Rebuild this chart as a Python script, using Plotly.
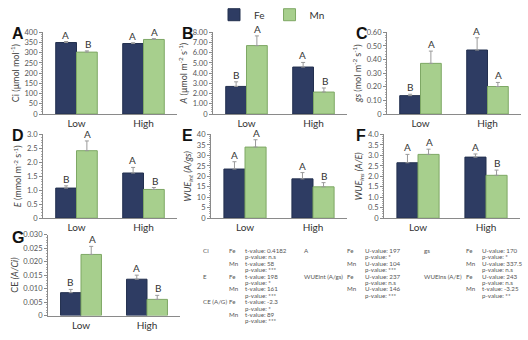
import plotly.graph_objects as go

W, H = 528, 340
FONT = "Lato"

groups = ["Low", "High"]
series = ["Fe", "Mn"]
colors = {"Fe": "#2E3C63", "Mn": "#A7CF8D"}
lines = {"Fe": "#23304F", "Mn": "#7EA865"}

# panel values: Fe / Mn at Low, High
ci_fe = [350, 345]; ci_mn = [303, 365]
ci_fe_err = [5, 4]; ci_mn_err = [6, 4]
ci_fe_let = ["A", "A"]; ci_mn_let = ["B", "A"]

a_fe = [2.70, 4.60]; a_mn = [6.70, 2.15]
a_fe_err = [0.45, 0.45]; a_mn_err = [0.95, 0.40]
a_fe_let = ["B", "A"]; a_mn_let = ["A", "B"]

gs_fe = [0.135, 0.470]; gs_mn = [0.372, 0.202]
gs_fe_err = [0.01, 0.09]; gs_mn_err = [0.09, 0.03]
gs_fe_let = ["B", "A"]; gs_mn_let = ["A", "A"]

e_fe = [1.08, 1.62]; e_mn = [2.42, 1.03]
e_fe_err = [0.08, 0.20]; e_mn_err = [0.35, 0.07]
e_fe_let = ["B", "A"]; e_mn_let = ["A", "B"]

wint_fe = [23.5, 18.8]; wint_mn = [34.0, 15.0]
wint_fe_err = [3.5, 3.0]; wint_mn_err = [3.5, 2.0]
wint_fe_let = ["A", "A"]; wint_mn_let = ["A", "B"]

wins_fe = [2.65, 2.92]; wins_mn = [3.05, 2.05]
wins_fe_err = [0.40, 0.15]; wins_mn_err = [0.25, 0.25]
wins_fe_let = ["A", "A"]; wins_mn_let = ["A", "B"]

ce_fe = [0.0085, 0.0135]; ce_mn = [0.0227, 0.0060]
ce_fe_err = [0.0012, 0.0015]; ce_mn_err = [0.0030, 0.0015]
ce_fe_let = ["B", "A"]; ce_mn_let = ["A", "B"]

ticks_a = [0, 50, 100, 150, 200, 250, 300, 350, 400]
ticks_b = [0, 1, 2, 3, 4, 5, 6, 7, 8]
ticks_c = [0, 0.1, 0.2, 0.3, 0.4, 0.5, 0.6]
ticks_d = [0, 0.5, 1.0, 1.5, 2.0, 2.5, 3.0]
ticks_e = [0, 5, 10, 15, 20, 25, 30, 35, 40]
ticks_f = [0, 0.5, 1.0, 1.5, 2.0, 2.5, 3.0, 3.5, 4.0]
ticks_g = [0, 0.005, 0.010, 0.015, 0.020, 0.025, 0.030]

panels = [
    dict(letter="A", fe=ci_fe, mn=ci_mn, fe_err=ci_fe_err, mn_err=ci_mn_err, fl=ci_fe_let, ml=ci_mn_let,
         ticks=ticks_a, fmt="{:.0f}", minor=10, title="Ci (μmol mol<sup>-1</sup>)",
         box=(43, 177, 29, 113), lpos=(10, 30)),
    dict(letter="B", fe=a_fe, mn=a_mn, fe_err=a_fe_err, mn_err=a_mn_err, fl=a_fe_let, ml=a_mn_let,
         ticks=ticks_b, fmt="{:.2f}", minor=0.2, title="<i>A</i> (μmol m<sup>-2</sup> s<sup>-1</sup>)",
         box=(213, 347, 29, 113), lpos=(180, 30)),
    dict(letter="C", fe=gs_fe, mn=gs_mn, fe_err=gs_fe_err, mn_err=gs_mn_err, fl=gs_fe_let, ml=gs_mn_let,
         ticks=ticks_c, fmt="{:.2f}", minor=0.02, title="<i>gs</i> (mol m<sup>-2</sup> s<sup>-1</sup>)",
         box=(387, 521, 29, 113), lpos=(354, 30)),
    dict(letter="D", fe=e_fe, mn=e_mn, fe_err=e_fe_err, mn_err=e_mn_err, fl=e_fe_let, ml=e_mn_let,
         ticks=ticks_d, fmt="{:.1f}", minor=0.1, title="<i>E</i> (mmol m<sup>-2</sup> s<sup>-1</sup>)",
         box=(43, 177, 134, 220), lpos=(10, 135)),
    dict(letter="E", fe=wint_fe, mn=wint_mn, fe_err=wint_fe_err, mn_err=wint_mn_err, fl=wint_fe_let, ml=wint_mn_let,
         ticks=ticks_e, fmt="{:.0f}", minor=1, title="<i>WUE<sub>int</sub> (A/gs)</i>",
         box=(211, 347, 134, 220), lpos=(180, 135)),
    dict(letter="F", fe=wins_fe, mn=wins_mn, fe_err=wins_fe_err, mn_err=wins_mn_err, fl=wins_fe_let, ml=wins_mn_let,
         ticks=ticks_f, fmt="{:.1f}", minor=0.1, title="<i>WUE<sub>ins</sub> (A/E)</i>",
         box=(384, 520, 134, 220), lpos=(354, 135)),
    dict(letter="G", fe=ce_fe, mn=ce_mn, fe_err=ce_fe_err, mn_err=ce_mn_err, fl=ce_fe_let, ml=ce_mn_let,
         ticks=ticks_g, fmt="{:.3f}", minor=0.001, title="CE <i>(A/Ci)</i>",
         box=(48, 180, 237, 320), lpos=(10, 240)),
]

# statistics table
col1_lab = ["Ci", "", "", "", "E", "", "", "", "CE (A/G)", "", "", ""]
col1_ion = ["Fe", "", "Mn", "", "Fe", "", "Mn", "", "Fe", "", "Mn", ""]
col1_val = ["t-value: 0.4182", "p-value: n.s", "t-value: 58", "p-value: ***",
            "t-value: 198", "p-value: *", "t-value: 161", "p-value: ***",
            "t-value: -2.3", "p-value: *", "t-value: 89", "p-value: ***"]
col2_lab = ["A", "", "", "", "WUEint (A/gs)", "", "", ""]
col2_ion = ["Fe", "", "Mn", "", "Fe", "", "Mn", ""]
col2_val = ["U-value: 197", "p-value: *", "U-value: 104", "p-value: ***",
            "U-value: 237", "p-value: n.s", "U-value: 146", "p-value: ***"]
col3_lab = ["gs", "", "", "", "WUEins (A/E)", "", "", ""]
col3_ion = ["Fe", "", "Mn", "", "Fe", "", "Mn", ""]
col3_val = ["U-value: 170", "p-value: *", "U-value: 337.5", "p-value: n.s",
            "U-value: 243", "p-value: n.s", "t-value: -3.25", "p-value: **"]


def px(x):
    return x / W


def py(y):
    return 1 - y / H


fig = go.Figure()
annotations = []
layout = {}

for i, p in enumerate(panels):
    n = "" if i == 0 else str(i + 1)
    xa, ya = "x" + n, "y" + n
    x0, x1, y0, y1 = p["box"]
    for s in series:
        vals = p["fe"] if s == "Fe" else p["mn"]
        errs = p["fe_err"] if s == "Fe" else p["mn_err"]
        fig.add_trace(go.Bar(
            x=groups, y=vals, name=s, xaxis=xa, yaxis=ya,
            marker=dict(color=colors[s], line=dict(color=lines[s], width=1)),
            error_y=dict(type="data", array=errs, arrayminus=[0] * len(errs), symmetric=False,
                         color="#9a9a9a", thickness=1, width=2),
            showlegend=(i == 0), legendgroup=s, offsetgroup=s,
        ))
        lets = p["fl"] if s == "Fe" else p["ml"]
        for g, v, e, l in zip(groups, vals, errs, lets):
            annotations.append(dict(
                x=g, y=v + e, xref=xa, yref=ya, text=l, showarrow=False,
                xshift=(-11 if s == "Fe" else 11), yanchor="bottom", yshift=-1,
                font=dict(size=10, color="#333", family=FONT)))
    tv = p["ticks"]
    tt = ["0"] + [p["fmt"].format(t) for t in tv[1:]]
    layout["xaxis" + n] = dict(
        domain=[px(x0), px(x1)], anchor=ya, range=[-0.5, 1.5], showline=True,
        linecolor="#8a8a8a", linewidth=1, ticks="", showgrid=False,
        tickfont=dict(size=10, color="#333", family=FONT), fixedrange=True)
    layout["yaxis" + n] = dict(
        domain=[py(y1), py(y0)], anchor=xa, range=[0, tv[-1] * 1.001],
        tickvals=tv, ticktext=tt, showline=True, linecolor="#8a8a8a", linewidth=1,
        ticks="outside", ticklen=3, tickcolor="#8a8a8a", showgrid=False, zeroline=False,
        minor=dict(dtick=p["minor"], ticks="outside", ticklen=1.5, tickcolor="#aaa"),
        tickfont=dict(size=7.5, color="#555", family=FONT),
        title=dict(text=p["title"], font=dict(size=9, color="#444", family=FONT), standoff=3),
        fixedrange=True)
    annotations.append(dict(
        x=px(p["lpos"][0]), y=py(p["lpos"][1]), xref="paper", yref="paper",
        text="<b>" + p["letter"] + "</b>", showarrow=False, xanchor="left", yanchor="middle",
        font=dict(size=16, color="#111", family="Liberation Sans")))

ROW0, DY = 253, 6.6
TFONT = dict(size=6.2, color="#555", family=FONT)


def add_col(labs, ions, vals, xl, xi, xv):
    for k, (a, b, c) in enumerate(zip(labs, ions, vals)):
        y = py(ROW0 + k * DY)
        for txt, xx in ((a, xl), (b, xi), (c, xv)):
            if txt:
                annotations.append(dict(x=px(xx), y=y, xref="paper", yref="paper", text=txt,
                                        showarrow=False, xanchor="left", yanchor="middle",
                                        font=TFONT))


add_col(col1_lab, col1_ion, col1_val, 201, 227, 243)
add_col(col2_lab, col2_ion, col2_val, 302, 345, 363)
add_col(col3_lab, col3_ion, col3_val, 422, 464, 480)

fig.update_layout(
    width=W, height=H, margin=dict(l=0, r=0, t=0, b=0),
    paper_bgcolor="white", plot_bgcolor="white",
    barmode="group", bargap=0.38, bargroupgap=0,
    legend=dict(orientation="h", x=px(214), y=py(11), xanchor="left", yanchor="middle",
                font=dict(size=10, color="#333", family=FONT), itemwidth=30,
                tracegroupgap=0, bgcolor="rgba(0,0,0,0)"),
    annotations=annotations,
    **layout,
)

fig.write_html("out.html", config={"displayModeBar": False},
               post_script="document.body.style.margin='0';")
